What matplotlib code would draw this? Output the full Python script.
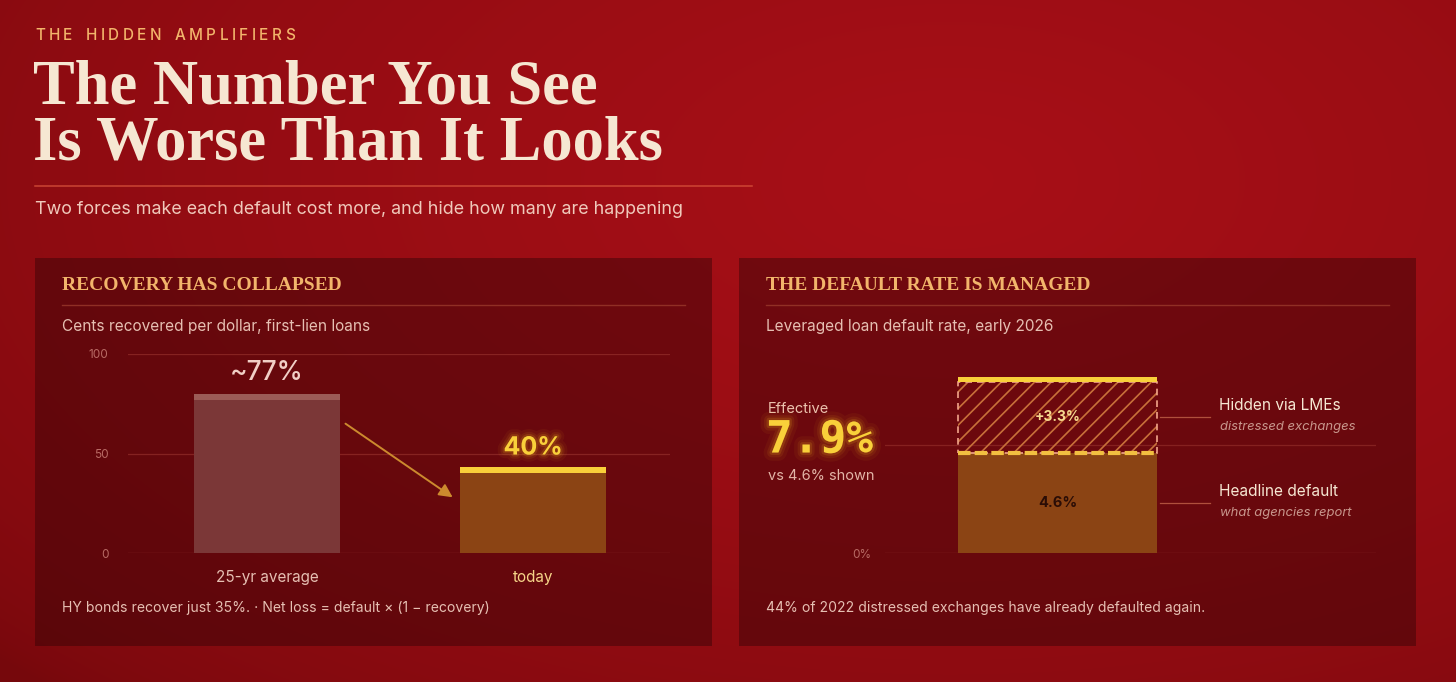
import numpy as np
import matplotlib
matplotlib.use('Agg')
import matplotlib.pyplot as plt
import matplotlib.patheffects as pe
from matplotlib.patches import Rectangle

# ---- data -------------------------------------------------------------------
recovery_labels = ['25-yr average', 'today']
recovery_values = [77, 40]
recovery_texts = ['~77%', '40%']
recovery_ticks = [0, 50, 100]

headline_default = 4.6
hidden_lme = 3.3
effective_default = headline_default + hidden_lme
default_ticks = [0, 5]
default_tick_labels = ['0%', '']

# ---- style ------------------------------------------------------------------
W, H = 1456, 682
SANS = ['Inter', 'DejaVu Sans']
SERIF = ['Liberation Serif', 'DejaVu Serif']
CREAM = '#f6e7d2'
GOLD = '#f2b56b'
YELLOW = '#f9d03a'
MUTED = '#e6bfb2'
plt.rcParams['hatch.linewidth'] = 1.2

fig = plt.figure(figsize=(W / 100, H / 100), dpi=100)

# background in pixel coordinates
bg = fig.add_axes([0, 0, 1, 1])
bg.set_xlim(0, W)
bg.set_ylim(H, 0)
bg.axis('off')

yy, xx = np.mgrid[0:H, 0:W]
r = np.sqrt(((xx - 950) / 1300.0) ** 2 + ((yy - 180) / 700.0) ** 2)
t = np.clip(1 - r, 0, 1) ** 0.6
dark = np.array([118, 8, 12]) / 255
bright = np.array([168, 15, 23]) / 255
img = dark + (bright - dark) * t[..., None]
bg.imshow(img, extent=[0, W, H, 0], aspect='auto', zorder=0)


def glow(color, widths=(10, 6, 3)):
    effects = []
    for w, a in zip(widths, (0.05, 0.08, 0.14)):
        effects.append(pe.Stroke(linewidth=w, foreground=color, alpha=a))
    effects.append(pe.Normal())
    return effects


def tracked(x, y, s, spacing, **kw):
    renderer = fig.canvas.get_renderer()
    for ch in s:
        if ch == ' ':
            x += 6 + spacing
            continue
        tx = bg.text(x, y, ch, **kw)
        x += tx.get_window_extent(renderer).width + spacing


# ---- header -----------------------------------------------------------------
tracked(35, 36, 'THE HIDDEN AMPLIFIERS', 3.5, color=GOLD, fontsize=11,
        family=SANS, fontweight='medium', va='center', zorder=3)
bg.text(33, 103, 'The Number You See', color=CREAM, fontsize=45,
        family=SERIF, fontweight='bold', va='baseline', zorder=3)
bg.text(33, 160, 'Is Worse Than It Looks', color=CREAM, fontsize=45,
        family=SERIF, fontweight='bold', va='baseline', zorder=3)
bg.plot([35, 752], [186, 186], color='#d9543c', lw=1.1, alpha=0.8, zorder=3)
bg.text(35, 210, 'Two forces make each default cost more, and hide how many are happening',
        color='#f0c9bb', fontsize=12.9, family=SANS, va='center', zorder=3)

# ---- panels -----------------------------------------------------------------
panels = [(35, 712, 'RECOVERY HAS COLLAPSED',
           'Cents recovered per dollar, first-lien loans',
           'HY bonds recover just 35%. \u00b7 Net loss = default \u00d7 (1 \u2212 recovery)'),
          (739, 1416, 'THE DEFAULT RATE IS MANAGED',
           'Leveraged loan default rate, early 2026',
           '44% of 2022 distressed exchanges have already defaulted again.')]
for x0, x1, title, sub, foot in panels:
    bg.add_patch(Rectangle((x0, 258), x1 - x0, 388, facecolor='#300306',
                           alpha=0.44, edgecolor='none', zorder=1))
    bg.text(x0 + 27, 286, title, color=GOLD, fontsize=14, family=SERIF,
            fontweight='bold', va='center', zorder=3)
    bg.plot([x0 + 27, x1 - 27], [305, 305], color='#9a3a2c', lw=1, alpha=0.8, zorder=3)
    bg.text(x0 + 27, 327, sub, color=MUTED, fontsize=11.1, family=SANS,
            va='center', zorder=3)
    bg.text(x0 + 27, 608, foot, color=MUTED, fontsize=10.1, family=SANS,
            va='center', zorder=3)


def px_axes(left, right, bottom, top):
    return fig.add_axes([left / W, 1 - bottom / H, (right - left) / W, (bottom - top) / H])


# ---- left chart: recovery ---------------------------------------------------
ax = px_axes(128, 670, 553, 354)
ax.patch.set_alpha(0)
for s in ax.spines.values():
    s.set_visible(False)
x = np.arange(len(recovery_values))
bw = 0.55
body_cols = ['#7b3737', '#8b4414']
cap_cols = ['#9c5b57', YELLOW]
ax.bar(x, recovery_values, width=bw, color=body_cols, zorder=3)
ax.bar(x, [3, 3], bottom=recovery_values, width=bw, color=cap_cols, zorder=3)
ax.set_xlim(-0.5226, 1.515)
ax.set_ylim(0, 100)
ax.set_yticks(recovery_ticks)
ax.set_yticklabels([str(v) for v in recovery_ticks], color='#b86a64',
                   fontsize=8.5, family=SANS)
ax.tick_params(axis='y', length=0, pad=14)
ax.set_xticks(x)
ax.set_xticklabels(recovery_labels, fontsize=11, family=SANS)
ax.get_xticklabels()[0].set_color(MUTED)
ax.get_xticklabels()[1].set_color('#f6d488')
ax.tick_params(axis='x', length=0, pad=12)
for v in recovery_ticks:
    ax.axhline(v, color='#a03a34', lw=0.9, alpha=0.55 if v else 0.8, zorder=1)

ax.text(x[0], recovery_values[0] + 7, recovery_texts[0], ha='center', va='bottom',
        color='#f1cfc6', fontsize=19, family=SANS, fontweight='medium', zorder=4)
ax.text(x[1], recovery_values[1] + 7, recovery_texts[1], ha='center', va='bottom',
        color=YELLOW, fontsize=18, family=SANS, fontweight='bold', zorder=4,
        path_effects=glow('#ffc820'))
ax.annotate('', xy=(x[1] - bw / 2 - 0.027, recovery_values[1] - 12),
            xytext=(x[0] + bw / 2 + 0.02, recovery_values[0] - 12),
            arrowprops=dict(arrowstyle='-|>', color='#cc8a2e', lw=1.4,
                            mutation_scale=20, shrinkA=0, shrinkB=0), zorder=4)

# ---- right chart: default rate ---------------------------------------------
ax2 = px_axes(885, 1376, 553, 336)
ax2.patch.set_alpha(0)
for s in ax2.spines.values():
    s.set_visible(False)
ax2.set_xlim(-0.520, 0.960)
ax2.set_ylim(0, 10)
bw2 = 0.6
for v in default_ticks:
    ax2.axhline(v, color='#a03a34', lw=0.9, alpha=0.8 if v == 0 else 0.5, zorder=1)
ax2.set_yticks(default_ticks)
ax2.set_yticklabels(default_tick_labels, color='#b86a64', fontsize=8.5, family=SANS)
ax2.tick_params(axis='y', length=0, pad=10)
ax2.set_xticks([])

ax2.bar(0, headline_default, width=bw2, color='#8b4414', zorder=3)
ax2.bar(0, hidden_lme, bottom=headline_default, width=bw2, color='none',
        edgecolor='#c8703a', hatch='//', lw=0, zorder=3)
ax2.bar(0, hidden_lme, bottom=headline_default, width=bw2, fill=False,
        edgecolor='#f2a58a', lw=1.2, linestyle=(0, (4, 3)), zorder=4)
ax2.plot([-bw2 / 2, bw2 / 2], [headline_default, headline_default], color='#f2c040',
         lw=3, linestyle=(0, (3, 1)), zorder=5)
ax2.bar(0, 0.22, bottom=effective_default, width=bw2, color=YELLOW, zorder=5)

ax2.text(0, headline_default + hidden_lme / 2, '+%.1f%%' % hidden_lme, ha='center',
         va='center', color='#f6d98f', fontsize=10, family=SANS,
         fontweight='bold', zorder=6)
ax2.text(0, headline_default / 2, '%.1f%%' % headline_default, ha='center',
         va='center', color='#2a0d06', fontsize=10.5, family=SANS,
         fontweight='bold', zorder=6)

# leader lines and side labels
mid_hidden = headline_default + hidden_lme / 2
mid_head = headline_default / 2
for ym, name, note in [(mid_hidden, 'Hidden via LMEs', 'distressed exchanges'),
                       (mid_head, 'Headline default', 'what agencies report')]:
    ax2.plot([bw2 / 2 + 0.01, bw2 / 2 + 0.16], [ym, ym], color='#b0503c', lw=0.9,
             zorder=2)
    ax2.text(bw2 / 2 + 0.187, ym + 0.55, name, color=CREAM, fontsize=11.1,
             family=SANS, va='center', zorder=6)
    ax2.text(bw2 / 2 + 0.19, ym - 0.45, note, color='#c8968c', fontsize=9.4,
             family=SANS, style='italic', va='center', zorder=6)

# effective callout
bg.text(768, 409, 'Effective', color='#ecc3ae', fontsize=10.5, family=SANS,
        va='center', zorder=3)
bg.text(766, 440, '%.1f%%' % effective_default, color=YELLOW, fontsize=32,
        family=['DejaVu Sans Mono'], fontweight='bold', va='center', zorder=3,
        path_effects=glow('#ffc820', widths=(12, 7, 3.5)))
bg.text(768, 476, 'vs %.1f%% shown' % headline_default, color='#e2b4a6',
        fontsize=10.5, family=SANS, va='center', zorder=3)

fig.savefig('out.png', dpi=100)
